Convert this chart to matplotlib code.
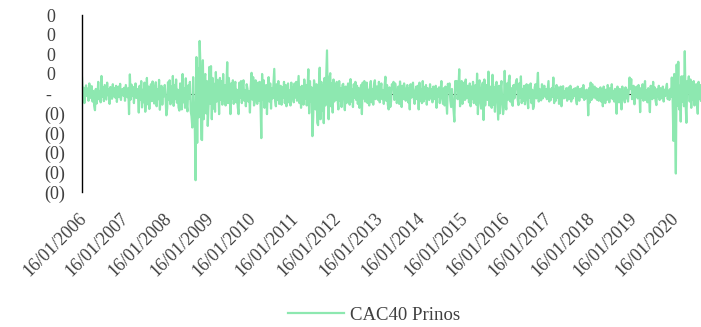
import pandas as pd
import matplotlib
matplotlib.use('Agg')
import matplotlib.pyplot as plt
import matplotlib.dates as mdates
from matplotlib.ticker import FixedLocator, FuncFormatter
from matplotlib.transforms import ScaledTranslation

# weekly returns in %, one list per year
r2006 = [4.0, -1.2, 1.5, -2.4, 0.8, 2.1, -0.6, 1.3, -1.8, 2.6, 0.4, -1.1, 1.9, -2.0, 0.7, -3.1, -4.2, 1.2, -2.5, -0.9,
         3.0, -1.4, 0.6, -2.2, 4.5, -0.8, 1.6, -1.9, 2.2, 0.3, -1.5, 2.8, -0.4, 1.1, -2.6, 1.7, 0.9, -1.3, 2.4, -0.7,
         1.4, -1.0, 2.0, -2.1, 0.5, 1.8, -0.9, 2.5, -1.6, 0.8, 1.2, -0.5]
r2007 = [1.5, -1.8, 2.2, 0.6, -0.9, 1.4, -5.2, 4.9, -1.5, 2.3, -0.6, 1.7, -2.4, 0.9, 2.6, -1.1, 1.2, -0.4, -4.8, 2.0,
         -1.6, 3.2, -3.5, 1.0, -2.2, 2.8, -4.6, -1.3, 4.0, -2.7, 1.8, -3.9, 0.7, 2.4, -1.9, 3.1, -0.8, -2.5, 1.6, 2.9,
         -3.2, 1.1, -1.4, 3.5, -4.1, 0.6, 2.0, -2.8, 1.3, -0.7, 2.2, -1.0]
r2008 = [-5.5, -3.8, 2.9, -1.6, 3.4, -2.7, 1.8, -2.0, 4.5, -3.1, 2.2, -1.4, 3.6, -2.3, 1.0, -3.5, -4.3, 2.6, -1.7, -4.0,
         5.0, -2.2, 1.4, -3.6, 3.9, -2.8, -4.5, 2.1, -1.2, 3.0, -4.4, -5.8, -8.6, 4.2, -3.0, -7.5, -22.0, 9.3, -12.5, 6.5,
         -6.0, 13.4, 7.0, -11.6, -11.8, 8.5, -6.5, 4.0, 5.0, -5.0, 3.2, -8.2]
r2009 = [-3.0, 6.8, -2.5, 7.0, -6.5, 4.0, -3.8, 2.5, -4.6, 5.5, -2.0, 3.5, 1.2, -5.2, 4.0, -1.5, 3.2, -2.8, 5.0, -1.8,
         2.2, -3.0, 1.5, 8.0, -2.4, 4.0, 1.0, -5.2, 2.6, -1.2, 3.4, -2.6, 1.8, 3.0, -2.2, 1.0, -3.4, -5.2, 2.8, -1.0,
         3.2, -2.4, 1.6, 3.4, -1.8, 0.8, -3.2, 2.4, 1.2, -2.0, 0.6, -4.8]
r2010 = [2.0, 5.3, -1.5, 4.2, -3.0, -2.2, 3.4, 1.2, -2.6, 2.8, -1.8, 3.0, -2.0, -11.3, 5.0, -1.4, 3.4, -3.6, 1.6, 2.2,
         -5.2, 1.0, 4.2, -2.0, 2.6, -3.8, 1.4, -1.2, 2.8, 6.3, -1.8, -3.2, 2.4, -1.6, 3.2, -2.6, 1.2, 2.0, -2.8, 1.6,
         -1.0, 3.0, -2.4, 2.2, -3.2, 1.4, 2.6, -2.2, 0.8, -3.0, 2.8, -1.4]
r2011 = [1.5, -2.2, 2.6, -1.0, 3.0, -1.8, 1.2, 4.5, -2.4, 1.6, -3.6, 2.0, 1.4, -2.8, 3.6, -1.2, 2.2, -3.0, 1.0, 6.2,
         -5.0, 3.2, -2.0, 1.6, -10.8, -6.0, 3.4, 1.4, -4.0, 2.4, -7.4, -8.0, 2.0, 6.6, -6.5, 3.0, -4.4, 2.2, -7.5, 4.0,
         -3.0, 3.8, 11.0, -2.0, -6.5, 4.0, 5.2, -3.2, 2.6, -4.8, 3.6, -2.0]
r2012 = [2.4, -1.6, 3.0, -1.2, -4.0, 3.2, -1.8, 1.4, -3.4, 2.2, 2.5, -1.2, -4.2, 1.8, -2.4, 1.0, 2.6, -1.6, -2.8, 3.7,
         -2.0, 1.2, -3.4, 2.4, -1.0, 3.0, -1.6, 2.0, -2.6, 1.4, -3.6, 0.8, 2.2, -5.2, 2.8, -1.2, 3.2, -2.0, 1.6, 2.8,
         -2.4, 1.0, -3.0, 1.8, 3.2, -2.2, 1.2, -2.8, 2.4, 3.4, -1.4, 1.8]
r2013 = [1.8, -1.6, 3.0, -2.2, 1.2, 2.6, -1.4, 0.8, -2.6, 2.0, 4.3, -1.8, 2.2, -2.8, -4.0, 1.6, -3.4, -2.0, 2.4, 1.2,
         3.0, -1.6, 2.6, 1.0, -2.4, -1.2, 1.8, -2.6, 3.1, 0.6, -3.4, 2.0, -1.4, 2.6, 1.0, -1.8, 0.8, 2.2, -2.2, 1.4,
         -4.0, 2.4, -1.0, 1.6, 2.8, -1.2, -2.6, 0.6, 1.8, -1.4, 2.0, -4.0]
r2014 = [2.8, -1.8, 1.2, -2.4, 3.2, -2.0, 1.6, -1.2, 2.2, -2.8, 1.4, 0.8, -1.6, 2.4, -1.0, 1.2, -2.2, 1.8, 0.6, -1.4,
         2.0, -3.6, 1.2, -0.8, 1.6, -2.4, 0.8, 3.2, -1.2, -2.6, 1.4, -3.0, 1.8, -1.6, -5.1, 2.5, 1.4, 2.6, -1.8, -3.4,
         1.2, -2.0, -4.2, -7.1, 3.2, 2.8, 3.2, -1.4, 1.0, 6.2, -3.2, 1.6]
r2015 = [3.2, -2.6, 1.4, 2.8, -1.6, 3.6, -1.2, 2.0, 1.6, -2.2, 2.6, -3.2, 1.8, -1.4, 3.0, -2.4, 1.2, 2.2, -2.8, 5.1,
         -5.2, 2.4, 3.4, -2.2, -3.8, 1.6, 2.8, -6.7, 3.6, -3.0, 1.4, 2.2, -1.6, 5.6, -3.0, 1.8, -2.4, -3.6, 4.8, -2.8,
         1.6, -4.6, 2.2, 3.0, -1.8, -6.6, 2.0, -5.0, 1.2, 3.2, -2.4, -5.2]
r2016 = [-3.6, 5.8, -2.4, -4.0, 2.6, -1.6, 3.2, 4.6, -2.0, 1.4, -2.6, -3.1, 2.2, -1.2, 1.8, 3.0, 3.7, -1.4, -2.9, 2.6,
         -1.0, 4.4, -2.4, 1.2, -1.8, 2.0, -2.7, 0.8, 2.4, -1.6, -3.7, 2.2, -1.0, 2.6, -2.4, 1.0, -3.9, -3.2, 1.6, 2.4,
         -1.2, 1.8, 5.3, -2.0, 1.2, -1.4, -1.7, 2.4, -1.2, 1.6, 2.0, -0.8]
r2017 = [1.2, -1.4, 0.8, 3.2, -2.0, 1.0, -1.6, 1.4, -0.8, 4.1, -2.4, 1.2, -1.8, 2.2, -1.0, 1.6, -2.6, 0.6, 1.8, -3.2,
         0.8, 1.9, -1.2, 0.6, -1.0, 1.4, -1.8, 0.4, 1.6, -1.4, 2.0, -2.0, 0.8, -1.2, 1.2, -0.6, 1.4, -1.6, -2.7, 1.8,
         0.6, -1.8, 1.2, -0.8, 1.4, -1.0, 2.2, -1.6, 0.8, -1.2, 1.0, 0.4]
r2018 = [-5.5, 1.4, -2.2, 2.8, -1.6, 2.4, -1.0, 1.4, 1.8, -1.2, 1.4, -1.6, 1.2, -1.8, 0.8, 1.6, -2.0, 1.2, -3.2, 1.8,
         0.6, -2.4, 1.0, -1.6, 2.2, 0.8, -2.2, 1.4, -1.0, 2.4, -1.4, 0.6, -2.0, 1.2, -1.6, -5.1, 1.8, 0.8, -2.2, 1.2,
         -1.0, -4.0, 1.8, -1.4, 0.6, -2.2, 1.6, -1.2, 1.0, -2.0, 0.8, 4.1]
r2019 = [1.2, 3.7, -1.4, 1.0, 2.0, -2.7, 1.6, -0.8, 1.8, -1.2, 2.2, 0.6, -4.7, 1.4, -1.0, 2.4, -1.8, 1.2, 3.2, -1.6,
         0.8, -2.2, 1.4, -1.2, -4.7, 2.0, 0.8, -1.4, 3.0, -1.0, 1.6, -1.8, -2.9, 1.2, -0.8, 2.0, -1.6, 1.4, -1.2, 0.6,
         1.8, -2.0, 1.0, -0.6, 1.4, 2.5, -1.4, 0.8, -1.6, 1.2, -0.8, 4.1]
r2020 = [-1.2, -12.0, 5.0, -6.0, -20.3, 7.4, -3.0, 8.1, -4.0, 2.0, -7.1, 4.4, -2.0, 4.4, -3.2, 10.8, -2.4, -7.4, 3.2, 1.6,
         4.4, -2.0, 3.6, -3.6, 2.8, -1.6, 3.2, -3.0, 1.4, 2.4, -2.2, -5.1, 3.0, -1.4, 2.2, -1.8]

series_name = 'CAC40 Prinos'
start_date = '2006-01-16'
tick_years = list(range(2006, 2021))
y_ticks = [0.20, 0.15, 0.10, 0.05, 0.0, -0.05, -0.10, -0.15, -0.20, -0.25]

values = []
for yr in [r2006, r2007, r2008, r2009, r2010, r2011, r2012, r2013,
           r2014, r2015, r2016, r2017, r2018, r2019, r2020]:
    values += yr
df = pd.DataFrame({
    'Fecha': pd.date_range(start_date, periods=len(values), freq='7D'),
    series_name: [v / 100 for v in values],
})

plt.rcParams['font.family'] = ['Liberation Serif', 'DejaVu Serif']

fig = plt.figure(figsize=(7.01, 3.27), dpi=100)
ax = fig.add_axes([82 / 701, 1 - 192 / 327, 1 - 82 / 701, 177 / 327])

ax.axhline(0, color='black', lw=0.8, zorder=1)
ax.plot(df['Fecha'], df[series_name], color='#8de8b0', lw=1.6, zorder=2, label=series_name)

ax.set_xlim(df['Fecha'].iloc[0], df['Fecha'].iloc[-1])
ax.set_ylim(-0.25, 0.20)

ticks = [pd.Timestamp(f'{y}-01-16') for y in tick_years]
ax.xaxis.set_major_locator(FixedLocator(mdates.date2num(ticks)))
ax.xaxis.set_major_formatter(mdates.DateFormatter('%d/%m/%Y'))
ax.set_yticks(y_ticks)


def contable(v, pos):
    if abs(v) < 1e-9:
        return '-   '
    if v < 0:
        return '(0)'
    return '0  '


ax.yaxis.set_major_formatter(FuncFormatter(contable))

for s in ['top', 'right', 'bottom']:
    ax.spines[s].set_visible(False)
ax.spines['left'].set_color('black')
ax.spines['left'].set_linewidth(1.0)

ax.tick_params(axis='y', length=0, pad=12, labelsize=13, labelcolor='#404040')
ax.tick_params(axis='x', length=0, pad=13, labelsize=13, labelcolor='#404040')
shift = ScaledTranslation(-4 / 100, 0, fig.dpi_scale_trans)
for lbl in ax.get_xticklabels():
    lbl.set_rotation(45)
    lbl.set_ha('right')
    lbl.set_va('top')
    lbl.set_rotation_mode('anchor')
    lbl.set_transform(lbl.get_transform() + shift)

fig.legend(loc='center', bbox_to_anchor=(374 / 701, 1 - 315 / 327), frameon=False,
           fontsize=13.5, handlelength=3.0, handletextpad=0.3, labelcolor='#404040')

plt.savefig('out.png', dpi=100)
